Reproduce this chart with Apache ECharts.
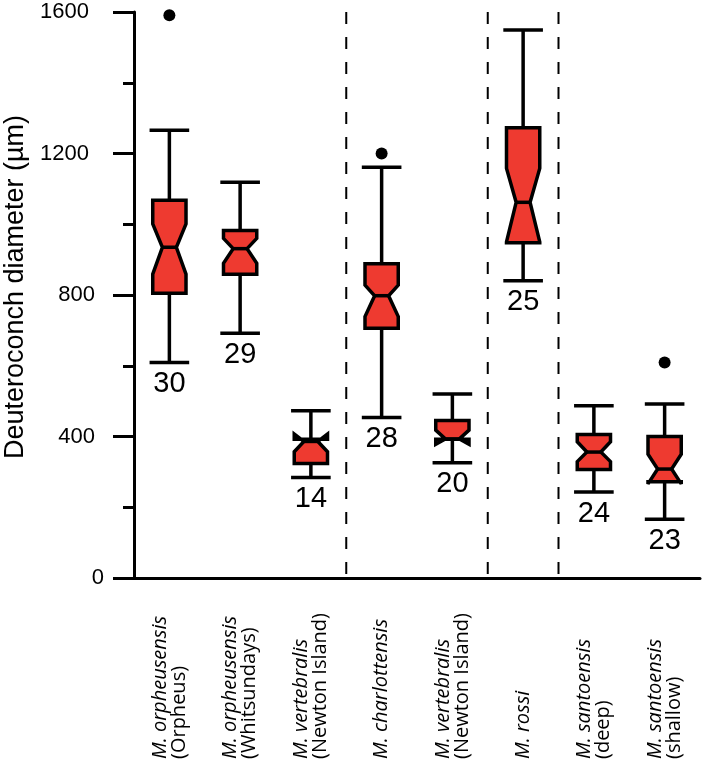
<!DOCTYPE html>
<html>
<head>
<meta charset="utf-8">
<script src="https://cdn.jsdelivr.net/npm/echarts@6/dist/echarts.min.js"></script>
<style>
html,body{margin:0;padding:0;background:#fff;}
#chart{width:704px;height:763px;}
</style>
</head>
<body>
<div id="chart"></div>
<script>
const speciesNames = ['M. orpheusensis','M. orpheusensis','M. vertebralis','M. charlottensis','M. vertebralis','M. rossi','M. santoensis','M. santoensis'];
const locations = ['(Orpheus)','(Whitsundays)','(Newton Island)','','(Newton Island)','','(deep)','(shallow)'];
const whiskerLow  = [609, 692, 284, 454, 326, 840, 243, 166];
const q1          = [805, 859, 324, 706, 392, 948, 307, 272];
const notchLow    = [859, 890, 357, 739, 378, 950, 329, 266];
const median      = [935, 931, 386, 798, 393, 1062, 356, 308];
const notchHigh   = [1001, 960, 407, 828, 418, 1158, 385, 350];
const q3          = [1068, 982, 392, 888, 445, 1273, 406, 400];
const whiskerHigh = [1266, 1119, 473, 1161, 520, 1549, 487, 492];
const outliers = [[0, 1591], [3, 1200], [7, 609]];
const sampleSizes = [30, 29, 14, 28, 20, 25, 24, 23];
const separatorsAfter = [2, 4, 5];
const yTicks = [0, 400, 800, 1200, 1600];

const categories = speciesNames.map((s, i) => String(i));
const boxData = speciesNames.map((s, i) => [i, whiskerLow[i], q1[i], notchLow[i], median[i], notchHigh[i], q3[i], whiskerHigh[i], sampleSizes[i]]);

const chart = echarts.init(document.getElementById('chart'));

function renderBox(params, api) {
  const i = api.value(0);
  const bw = api.size([1, 0])[0];
  const cx = api.coord([i, 0])[0];
  const y = k => api.coord([i, api.value(k)])[1];
  const yLo = y(1), yQ1 = y(2), yNLo = y(3), yMed = y(4), yNHi = y(5), yQ3 = y(6), yHi = y(7);
  const half = bw * 0.235, inner = half * 0.42, cap = bw * 0.28;
  const L = cx - half, R = cx + half;
  const stroke = {stroke: '#000', lineWidth: 3.5};
  return {
    type: 'group',
    children: [
      {type: 'line', shape: {x1: cx, y1: yQ3, x2: cx, y2: yHi}, style: stroke},
      {type: 'line', shape: {x1: cx, y1: yQ1, x2: cx, y2: yLo}, style: stroke},
      {type: 'line', shape: {x1: cx - cap, y1: yHi, x2: cx + cap, y2: yHi}, style: stroke},
      {type: 'line', shape: {x1: cx - cap, y1: yLo, x2: cx + cap, y2: yLo}, style: stroke},
      {type: 'polygon', shape: {points: [
        [L, yQ1], [L, yNLo], [cx - inner, yMed], [L, yNHi], [L, yQ3],
        [R, yQ3], [R, yNHi], [cx + inner, yMed], [R, yNLo], [R, yQ1]
      ]}, style: {fill: '#EE3A30', stroke: '#000', lineWidth: 3.5, lineJoin: 'miter', miterLimit: 3}},
      {type: 'line', shape: {x1: cx - inner, y1: yMed, x2: cx + inner, y2: yMed}, style: stroke},
      {type: 'text', x: cx, y: yLo + 7, style: {
        text: String(api.value(8)), fill: '#000', align: 'center', verticalAlign: 'top',
        font: '29px "Liberation Sans", Arial, sans-serif'}}
    ]
  };
}

function renderSep(params, api) {
  const i = api.value(0);
  const bw = api.size([1, 0])[0];
  const x = api.coord([i, 0])[0] + bw / 2;
  const y0 = api.coord([i, 0])[1];
  const y1 = api.coord([i, 1600])[1];
  return {type: 'line', shape: {x1: x, y1: y1, x2: x, y2: y0},
    style: {stroke: '#000', lineWidth: 2, lineDash: [12, 13]}};
}

const yLabelFont = {fontSize: 22, color: '#000', fontFamily: '"Liberation Sans", Arial, sans-serif'};

chart.setOption({
  animation: false,
  backgroundColor: '#fff',
  grid: {left: 134, right: 4, top: 12, bottom: 185, containLabel: false, outerBoundsMode: 'none'},
  xAxis: {
    type: 'category',
    data: categories,
    axisLine: {lineStyle: {color: '#000', width: 3}},
    axisTick: {alignWithLabel: true, length: 20, lineStyle: {color: '#000', width: 3}},
    axisLabel: {
      interval: 0, rotate: 90, align: 'left', verticalAlign: 'middle', margin: 181,
      fontSize: 20, lineHeight: 19, fontFamily: '"Open Sans", sans-serif', color: '#000',
      formatter: function (v) {
        const i = Number(v);
        let s = '{sp|' + speciesNames[i] + '}';
        if (locations[i]) s += '\n{loc|' + locations[i] + '}';
        return s;
      },
      rich: {
        sp: {fontStyle: 'italic', fontSize: 20, lineHeight: 19, fontFamily: '"Open Sans", sans-serif', color: '#000'},
        loc: {fontSize: 20, lineHeight: 19, fontFamily: '"Open Sans", sans-serif', color: '#000'}
      }
    },
    splitLine: {show: false}
  },
  yAxis: {
    type: 'value', min: 0, max: 1600, interval: 400,
    name: 'Deuteroconch diameter (µm)', nameLocation: 'middle', nameGap: 103,
    nameTextStyle: {fontSize: 27, color: '#000', fontFamily: '"Liberation Sans", Arial, sans-serif', padding: [0, 0, 0, 16]},
    axisLine: {show: true, lineStyle: {color: '#000', width: 3}},
    axisTick: {show: true, length: 21, lineStyle: {color: '#000', width: 3}},
    minorTick: {show: true, splitNumber: 2, length: 11, lineStyle: {color: '#000', width: 3}},
    axisLabel: {margin: 30, fontSize: 22, color: '#000', fontFamily: '"Liberation Sans", Arial, sans-serif',
      formatter: function (v) {
        if (!yTicks.includes(v)) return '';
        if (v === 0) return '{p0|0}';
        if (v < 1000) return '{p1|' + v + '}';
        return '{p2|' + v + '}';
      },
      rich: {
        p0: Object.assign({padding: [0, 0, 0, 0]}, yLabelFont),
        p1: Object.assign({padding: [0, 9, 0, 0]}, yLabelFont),
        p2: Object.assign({padding: [0, 15, 0, 0]}, yLabelFont)
      }
    },
    splitLine: {show: false}
  },
  series: [
    {type: 'custom', renderItem: renderSep, data: separatorsAfter.map(v => [v]), z: 1, silent: true},
    {type: 'custom', renderItem: renderBox, data: boxData, z: 3, silent: true,
      encode: {x: 0, y: [1, 2, 3, 4, 5, 6, 7]}},
    {type: 'scatter', data: outliers, symbolSize: 12, itemStyle: {color: '#000', opacity: 1}, z: 4, silent: true}
  ]
});
</script>
</body>
</html>
